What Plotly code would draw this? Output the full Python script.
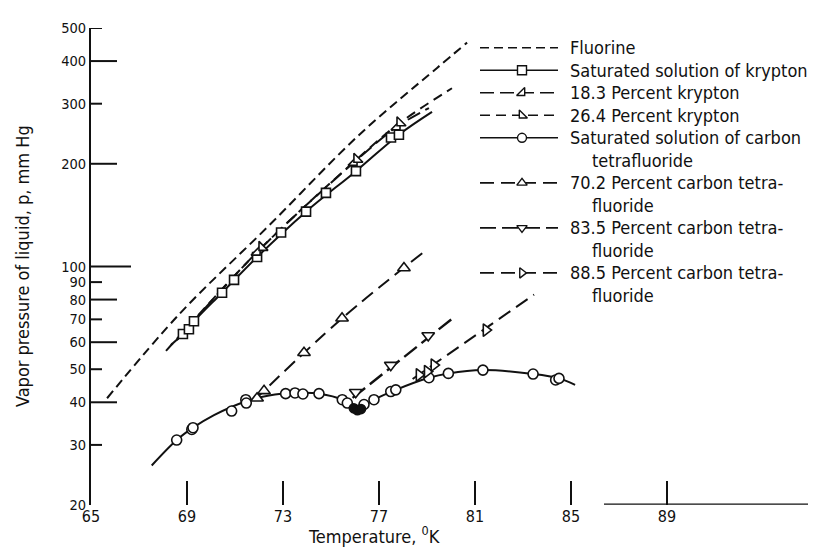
import math
import plotly.graph_objects as go

# ---------------- data ----------------
fl_T = [65.67, 68.67, 72.42, 76.17, 79.42, 80.67]
fl_p = [41.1, 72.4, 131.9, 243, 382, 453]

kr_sat_T = [68.83, 69.08, 69.29, 70.46, 70.96, 71.92, 72.92, 73.96, 74.79, 76.04, 77.5, 77.83]
kr_sat_p = [63.4, 65.5, 69.1, 83.8, 91.4, 106.6, 125.8, 144.8, 164.3, 190.3, 238.7, 243.4]
kr_sat_line_T = [68.33, 68.83, 69.29, 70.46, 71.92, 73.96, 76.04, 77.83, 79.21]
kr_sat_line_p = [58.9, 63.4, 69.1, 83.8, 106.6, 144.8, 190.3, 243.4, 283.8]

kr18_T = [71.92, 75.96, 77.75]
kr18_p = [110.2, 202, 256.8]
kr18_line_T = [68.58, 71.92, 75.96, 77.75, 79.08]
kr18_line_p = [60.9, 110.2, 202, 256.8, 291.4]

kr26_T = [72.125, 76.08, 77.875]
kr26_p = [113.8, 206.2, 263.8]
kr26_line_T = [68.125, 72.125, 76.08, 77.875, 80.04]
kr26_line_p = [56.6, 113.8, 206.2, 263.8, 333]

cf4_T = [68.57, 69.2, 69.25, 70.86, 71.45, 71.47, 73.11, 73.5, 73.83, 74.5, 75.47, 75.68,
         76.375, 76.79, 77.49, 77.7, 79.08, 79.89, 81.33, 83.42, 84.36, 84.5]
cf4_p = [31.0, 33.3, 33.7, 37.7, 40.7, 39.8, 42.4, 42.6, 42.3, 42.4, 40.7, 39.8,
         39.4, 40.7, 43.0, 43.5, 47.2, 48.6, 49.7, 48.4, 46.5, 47.0]
cf4_fill_T = [75.95, 76.1, 76.25]
cf4_fill_p = [38.4, 37.9, 38.2]
cf4_left_T = [67.53, 68.57, 69.25, 70.125, 71.47, 72.42, 73.5, 74.5, 75.47, 76.08]
cf4_left_p = [26.1, 31.0, 33.7, 36.7, 40.3, 41.9, 42.6, 42.4, 40.7, 37.7]
cf4_right_T = [76.08, 76.79, 77.7, 79.08, 79.89, 81.33, 83.42, 84.5, 85.17]
cf4_right_p = [37.7, 40.7, 43.5, 47.2, 48.6, 49.7, 48.4, 47.0, 45.0]

c70_T = [71.92, 72.21, 73.875, 75.46, 78.04]
c70_p = [41.1, 43.2, 55.9, 70.5, 99.0]
c70_line_T = [71.79, 75.46, 78.96]
c70_line_p = [40.5, 70.5, 111.6]

c83_T = [76.03, 77.49, 79.05]
c83_p = [42.8, 51.4, 62.8]
c83_line_T = [75.9, 80.125]
c83_line_p = [41.2, 71.0]

c88_T = [78.67, 79.01, 79.29, 81.46]
c88_p = [48.1, 49.2, 51.4, 65.1]
c88_line_T = [78.4, 83.46]
c88_line_p = [46.8, 82.7]

x_ticks = [65, 69, 73, 77, 81, 85, 89]
y_ticks = [20, 30, 40, 50, 60, 70, 80, 90, 100, 200, 300, 400, 500]
y_tick_short = [30, 50, 70, 90, 300, 500]
y_tick_long = [40, 60, 80, 200, 400]
y_tick_longest = [100]

legend_labels = [
    ["Fluorine"],
    ["Saturated solution of krypton"],
    ["18.3 Percent krypton"],
    ["26.4 Percent krypton"],
    ["Saturated solution of carbon", "tetrafluoride"],
    ["70.2 Percent carbon tetra-", "fluoride"],
    ["83.5 Percent carbon tetra-", "fluoride"],
    ["88.5 Percent carbon tetra-", "fluoride"],
]

# ---------------- styling ----------------
FONT = "DejaVu Sans Condensed, Liberation Sans Narrow, DejaVu Sans, sans-serif"
BLACK = "#111111"
W, H = 816, 550
OFF = 8                      # default page (body) margin in front of the figure
# plot area in page pixels
PL, PR, PT, PB = 91, 800, 22, 505
PW, PH = PR - PL, PB - PT
ML, MT = PL - OFF, PT - OFF
MR, MB = W - ML - PW, H - MT - PH

styles = [
    dict(dash="9px,5px", width=2, symbol=None),
    dict(dash="solid", width=2, symbol="square"),
    dict(dash="14px,6px", width=2, symbol="triangle-se"),
    dict(dash="10px,6px", width=2, symbol="triangle-sw"),
    dict(dash="solid", width=2, symbol="circle"),
    dict(dash="14px,7px", width=2, symbol="triangle-up"),
    dict(dash="16px,6px", width=2.4, symbol="triangle-down"),
    dict(dash="14px,7px", width=2, symbol="triangle-right"),
]

fig = go.Figure()


def line(T, p, st, shape="linear"):
    fig.add_trace(go.Scatter(x=T, y=p, mode="lines", showlegend=False, hoverinfo="skip",
                             line=dict(color=BLACK, width=st["width"], dash=st["dash"],
                                       shape=shape, smoothing=1.0)))


def marks(T, p, symbol, size=10, fill=False):
    fig.add_trace(go.Scatter(x=T, y=p, mode="markers", showlegend=False,
                             marker=dict(symbol=symbol, size=size,
                                         color=BLACK if fill else "white",
                                         line=dict(color=BLACK, width=1.6))))


line(fl_T, fl_p, styles[0], "spline")
line(kr_sat_line_T, kr_sat_line_p, styles[1], "spline")
line(kr18_line_T, kr18_line_p, styles[2], "spline")
line(kr26_line_T, kr26_line_p, styles[3], "spline")
line(cf4_left_T, cf4_left_p, styles[4], "spline")
line(cf4_right_T, cf4_right_p, styles[4], "spline")
line(c70_line_T, c70_line_p, styles[5], "spline")
line(c83_line_T, c83_line_p, styles[6])
line(c88_line_T, c88_line_p, styles[7])

marks(kr_sat_T, kr_sat_p, "square", 9)
marks(kr18_T, kr18_p, "triangle-se", 10)
marks(kr26_T, kr26_p, "triangle-sw", 10)
marks(cf4_T, cf4_p, "circle", 10)
marks(cf4_fill_T, cf4_fill_p, "circle", 9, fill=True)
marks(c70_T, c70_p, "triangle-up", 11)
marks(c83_T, c83_p, "triangle-down", 11)
marks(c88_T, c88_p, "triangle-right", 11)

# ---------------- custom legend (overlay axes in page pixels) ----------------
LEG_X0, LEG_X1, LEG_XM, LEG_TX, LEG_TX2 = 480, 558, 522, 568, 590
LEG_Y0, LEG_DY = 42, 22.8
annotations = []
row = 0
for st, labels in zip(styles, legend_labels):
    yy = LEG_Y0 + LEG_DY * row
    fig.add_trace(go.Scatter(x=[LEG_X0, LEG_X1], y=[yy, yy], mode="lines", xaxis="x2", yaxis="y2",
                             showlegend=False, hoverinfo="skip",
                             line=dict(color=BLACK, width=st["width"] * 0.8, dash=st["dash"])))
    if st["symbol"]:
        fig.add_trace(go.Scatter(x=[LEG_XM], y=[yy], mode="markers", xaxis="x2", yaxis="y2",
                                 showlegend=False, hoverinfo="skip",
                                 marker=dict(symbol=st["symbol"], size=9, color="white",
                                             line=dict(color=BLACK, width=1.4))))
    for k, lab in enumerate(labels):
        annotations.append(dict(x=LEG_TX if k == 0 else LEG_TX2, y=yy + LEG_DY * k,
                                xref="x2", yref="y2", text=lab, showarrow=False,
                                xanchor="left", yanchor="middle",
                                font=dict(family=FONT, size=18, color=BLACK)))
    row += len(labels)

# axis titles
annotations.append(dict(x=(22 - PL) / PW, y=(PB - 263) / PH, xref="paper", yref="paper",
                        text="Vapor pressure of liquid, p, mm Hg", textangle=-90,
                        showarrow=False, xanchor="center", yanchor="middle",
                        font=dict(family=FONT, size=18, color=BLACK)))
annotations.append(dict(x=(374 - PL) / PW, y=(PB - 535) / PH, xref="paper", yref="paper",
                        text="Temperature, <sup>0</sup>K", showarrow=False,
                        xanchor="center", yanchor="middle",
                        font=dict(family=FONT, size=18, color=BLACK)))

# y-axis tick marks of different lengths
shapes = []
for vals, ln in ((y_tick_short, 11), (y_tick_long, 26), (y_tick_longest, 40)):
    for v in vals:
        shapes.append(dict(type="line", xref="paper", xsizemode="pixel", xanchor=0,
                           x0=0, x1=ln, yref="y", y0=v, y1=v,
                           line=dict(color=BLACK, width=2)))
# stray baseline segment at the lower right
shapes.append(dict(type="line", xref="paper", yref="paper",
                   x0=(604 - PL) / PW, x1=(816 - PL) / PW, y0=0.002, y1=0.002,
                   line=dict(color=BLACK, width=1.3)))

fig.update_layout(
    width=W, height=H, margin=dict(l=ML, r=MR, t=MT, b=MB),
    paper_bgcolor="white", plot_bgcolor="white", showlegend=False,
    font=dict(family=FONT, size=15, color=BLACK),
    xaxis=dict(range=[65, 65 + PW / 24.0], tickvals=x_ticks, ticktext=[str(v) for v in x_ticks],
               ticks="inside", ticklen=24, tickwidth=1.6, tickcolor=BLACK,
               showline=False, showgrid=False, zeroline=False,
               tickfont=dict(family=FONT, size=16, color=BLACK)),
    yaxis=dict(type="log", range=[math.log10(20), math.log10(500)], tickvals=y_ticks,
               ticktext=[str(v) for v in y_ticks], ticks="", showline=True, linewidth=2,
               linecolor=BLACK, showgrid=False, zeroline=False,
               tickfont=dict(family=FONT, size=14.5, color=BLACK)),
    xaxis2=dict(range=[PL, PR], overlaying="x", anchor="y2", visible=False),
    yaxis2=dict(range=[PB, PT], overlaying="y", anchor="x2", visible=False),
    annotations=annotations, shapes=shapes,
)

fig.write_html("out.html")
